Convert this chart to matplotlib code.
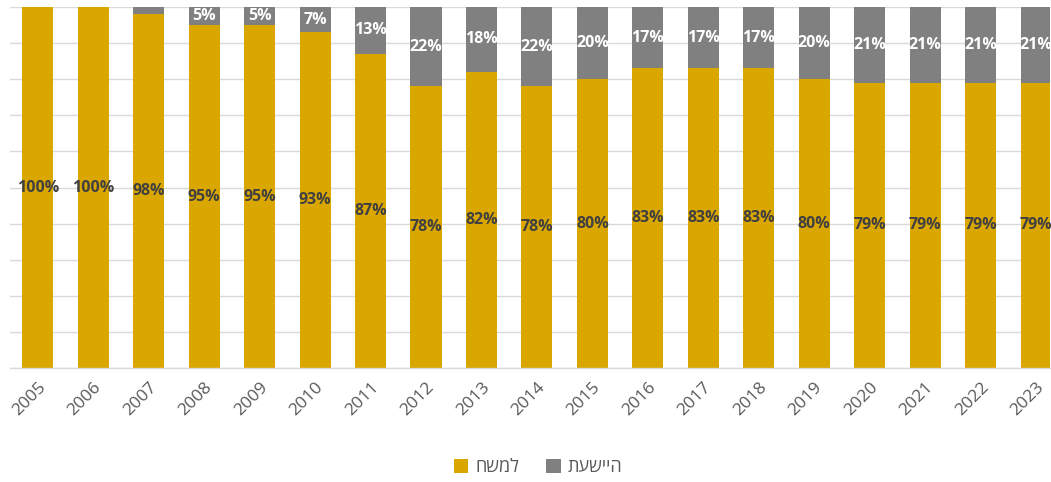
import matplotlib.pyplot as plt
import numpy as np

years = [str(y) for y in range(2005, 2024)]
electricity = [100, 100, 98, 95, 95, 93, 87, 78, 82, 78, 80, 83, 83, 83, 80, 79, 79, 79, 79]
industry = [0, 0, 2, 5, 5, 7, 13, 22, 18, 22, 20, 17, 17, 17, 20, 21, 21, 21, 21]
legend_labels = ["חשמל", "תעשייה"]

gold = "#DAA600"
gray = "#808080"
fonts = ["Open Sans", "DejaVu Sans"]
plt.rcParams['font.family'] = fonts

fig = plt.figure(figsize=(10.51, 4.82), dpi=100)
ax = fig.add_axes([10 / 1051, 1 - 368 / 482, 1040 / 1051, 361 / 482])

x = np.arange(len(years))
el = np.array(electricity)
ind = np.array(industry)
w = 0.56

b1 = ax.bar(x, el, width=w, color=gold, label=legend_labels[0], zorder=2)
b2 = ax.bar(x, ind, width=w, bottom=el, color=gray, label=legend_labels[1], zorder=2)

for i in range(len(x)):
    ax.text(x[i], el[i] / 2, f"{el[i]}%", ha="center", va="center",
            fontsize=11.5, fontweight="bold", color="#404040", zorder=3)
    if ind[i] >= 3:  # the 2% slice has no label
        ax.text(x[i], el[i] + ind[i] / 2, f"{ind[i]}%", ha="center", va="center",
                fontsize=11.5, fontweight="bold", color="white", zorder=3)

ax.set_ylim(0, 100)
ax.set_xlim(-0.5, 18.25)
ax.set_yticks(np.arange(0, 101, 10))
ax.set_yticklabels([])
ax.tick_params(axis="y", length=0)
ax.grid(axis="y", color="#D9D9D9", linewidth=1, zorder=0)
ax.set_xticks(x)
ax.set_xticklabels(years, rotation=45, ha="right", rotation_mode="anchor",
                   fontsize=12.5, color="#595959")
ax.tick_params(axis="x", length=0, pad=8)
for s in ["top", "right", "left"]:
    ax.spines[s].set_visible(False)
ax.spines["bottom"].set_color("#D9D9D9")
ax.spines["bottom"].set_linewidth(1)

fig.legend(loc="center", bbox_to_anchor=(538 / 1051, 1 - 467 / 482), ncol=2,
           frameon=False, fontsize=13, handlelength=0.8, handleheight=0.8,
           handletextpad=0.4, columnspacing=1.5, labelcolor="#595959")

fig.savefig("out.png", dpi=100)
